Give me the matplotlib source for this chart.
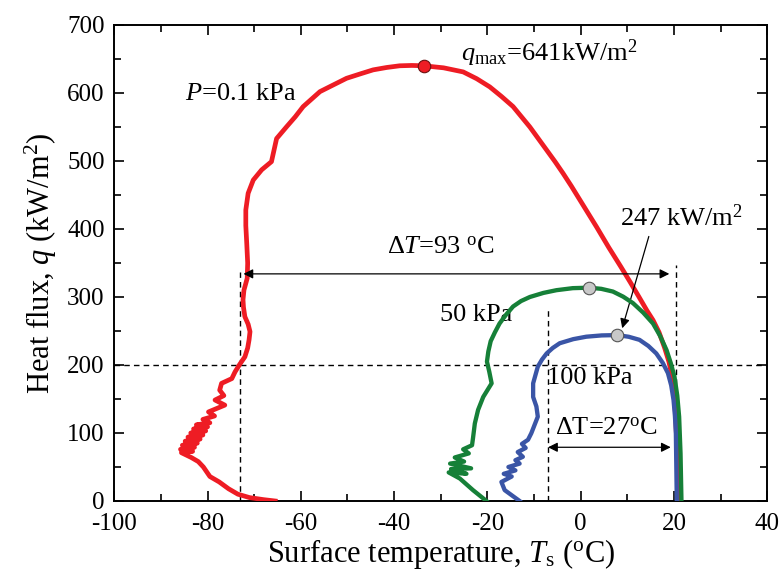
import matplotlib
matplotlib.use("Agg")
import matplotlib.pyplot as plt
from matplotlib.ticker import MultipleLocator

plt.rcParams['font.family'] = ['Liberation Serif', 'DejaVu Serif']
plt.rcParams['mathtext.fontset'] = 'custom'
plt.rcParams['mathtext.rm'] = 'Liberation Serif'
plt.rcParams['mathtext.it'] = 'Liberation Serif:italic'
plt.rcParams['axes.unicode_minus'] = False

# --- data ---
# P = 0.1 kPa
red_T = [-65.5, -68.0, -71.0, -73.5, -75.5, -77.5, -79.5, -80.9, -82.0, -83.5,
         -85.6, -83.2, -85.8, -82.8, -85.4, -82.2, -84.8, -81.6, -84.2, -81.0,
         -83.6, -80.4, -83.0, -80.0, -82.4, -79.5, -81.0, -78.5, -79.8, -76.3,
         -78.4, -76.5, -77.4, -77.0, -74.8, -74.1, -73.1, -72.5, -72.0, -71.4,
         -71.1, -70.9, -71.3, -72.0, -72.3, -72.4, -72.2, -71.5, -71.4, -71.6,
         -71.8, -71.8, -71.3, -70.2, -68.4, -66.3, -65.2, -63.1, -61.2, -59.5,
         -57.7, -55.9, -53.0, -50.2, -47.3, -44.5, -41.6, -38.8, -36.2, -33.6,
         -29.4, -25.2, -22.3, -19.5, -17.0, -14.5, -12.7, -10.9, -9.1, -7.3,
         -5.5, -3.8, -2.0, -0.2, 1.6, 3.4, 6.0, 8.6, 10.6, 12.5,
         14.2, 15.5, 16.8, 18.0, 18.9, 19.6, 20.0, 20.3, 20.5, 20.7,
         20.9, 21.1]
red_q = [0, 2, 5, 10, 18, 28, 36, 50, 58, 64,
         71, 73, 76, 79, 82, 85, 88, 91, 94, 97,
         100, 103, 106, 109, 112, 115, 120, 125, 131, 141,
         148.5, 155, 163, 173, 180, 190, 201, 207, 212, 225,
         237, 249, 260, 271, 285, 296, 310, 327.5, 350, 379,
         405, 428, 452.5, 472, 487, 499, 533, 550, 565, 580,
         591, 602, 612, 621.6, 628, 634, 637.5, 640, 640.5, 640,
         637, 631, 621, 609, 595, 580, 565, 550, 533, 516,
         499, 482, 463, 443, 423, 403, 373, 344.5, 322, 300,
         280, 266, 248, 225, 205, 183, 160, 130, 100, 60,
         30, 0]

# P = 50 kPa
green_T = [-20.2, -23.1, -25.9, -28.3, -24.5, -27.8, -23.5, -28.0, -25.0, -27.0,
           -24.0, -25.2, -23.3, -23.1, -22.7, -22.0, -20.9, -19.1, -19.6, -20.1,
           -19.8, -19.3, -18.4, -17.4, -16.0, -14.5, -12.8, -10.9, -8.0, -5.2,
           -1.7, 1.8, 4.4, 6.9, 9.1, 11.2, 13.4, 15.5, 17.0, 18.4,
           19.3, 20.1, 20.7, 21.1, 21.4, 21.6]
green_q = [0, 16, 33, 42, 40, 47, 48, 55, 58, 64,
           70, 76, 82, 92, 114, 134, 153, 173, 190, 205,
           220, 235, 248, 261, 274, 286, 294, 300, 306, 310,
           313, 313.7, 312, 308, 300.5, 291, 277, 261, 243, 222,
           203, 183, 155, 124, 70, 0]

# P = 100 kPa
blue_T = [-13.1, -16.3, -17.0, -14.8, -16.5, -14.0, -15.5, -13.1, -14.0, -12.4,
          -13.5, -11.8, -12.6, -11.3, -10.6, -9.2, -9.5, -10.2, -10.2, -9.2,
          -8.3, -7.3, -6.0, -4.5, -1.6, 1.2, 4.5, 7.8, 10.3, 12.6,
          14.5, 16.2, 17.6, 18.7, 19.4, 19.9, 20.2, 20.4, 20.5, 20.6]
blue_q = [0, 16, 28, 36, 40, 45, 50, 55, 60, 65,
          72, 78, 84, 90, 99.5, 124, 139, 153, 173, 197.5,
          208, 217, 225, 232, 238, 241.6, 243.5, 244, 241.5, 237,
          228, 217, 203, 188, 170, 148.5, 125, 99.5, 50, 0]

# peak points
peak_red = (-33.6, 640)
peak_green = (1.8, 313.7)
peak_blue = (7.8, 244)

fig = plt.figure(figsize=(7.8, 5.81), dpi=100)
ax = fig.add_axes([0.1465, 0.1377, 0.8372, 0.8193])

ax.plot(red_T, red_q, color='#ee1c24', lw=3.4, solid_joinstyle='round', zorder=3)
ax.plot(green_T, green_q, color='#168038', lw=3.1, solid_joinstyle='round', zorder=4)
ax.plot(blue_T, blue_q, color='#3a55a6', lw=3.1, solid_joinstyle='round', zorder=5)

ax.plot(*peak_red, 'o', ms=9, mfc='#ee1c24', mec='#6a1010', mew=0.8, zorder=6)
ax.plot(*peak_green, 'o', ms=9, mfc='#c8c8c8', mec='#555555', mew=0.8, zorder=6)
ax.plot(*peak_blue, 'o', ms=9, mfc='#c8c8c8', mec='#555555', mew=0.8, zorder=6)

# dashed guide lines
dash = dict(color='black', lw=1.0, ls=(0, (4, 3)), zorder=2)
ax.axhline(200, **dash)
ax.plot([-73.0, -73.0], [0, 337], **dash)
ax.plot([20.5, 20.5], [0, 347], **dash)
ax.plot([-7.0, -7.0], [0, 281], **dash)

# delta T arrows
arr = dict(arrowstyle='<|-|>', color='black', lw=0.9, mutation_scale=14,
           shrinkA=0, shrinkB=0)
ax.annotate('', xy=(19.0, 334), xytext=(-72.3, 334), arrowprops=arr)
ax.annotate('', xy=(19.3, 79), xytext=(-7.0, 79), arrowprops=arr)
ax.annotate('', xy=(8.9, 254), xytext=(14.6, 389),
            arrowprops=dict(arrowstyle='-|>', color='black', lw=0.9,
                            mutation_scale=14, shrinkA=0, shrinkB=0))

fs = 19
ax.text(-84.8, 598, '$P$=0.1 kPa', fontsize=fs, va='center')
ax.text(-25.6, 658, r'$q_{\mathrm{max}}$=641kW/m$^{2}$', fontsize=fs, va='center')
ax.text(8.4, 416, '247 kW/m$^{2}$', fontsize=fs, va='center')
ax.text(-41.6, 372, r'Δ$T$=93 $^{\mathrm{o}}$C', fontsize=fs, va='center')
ax.text(-30.2, 273.5, '50 kPa', fontsize=fs, va='center')
ax.text(-7.3, 181, '100 kPa', fontsize=fs, va='center')
ax.text(-5.6, 106, r'ΔT=27$^{\mathrm{o}}$C', fontsize=fs, va='center')

ax.set_xlim(-100, 40)
ax.set_ylim(0, 700)
ax.xaxis.set_major_locator(MultipleLocator(20))
ax.xaxis.set_minor_locator(MultipleLocator(10))
ax.yaxis.set_major_locator(MultipleLocator(100))
ax.yaxis.set_minor_locator(MultipleLocator(50))
ax.tick_params(which='both', direction='in', top=True, right=True, width=1.2)
ax.tick_params(which='major', length=7, labelsize=18)
ax.tick_params(which='minor', length=5)
ax.tick_params(axis='x', which='major', pad=9)
ax.tick_params(axis='y', which='major', pad=7)
for s in ax.spines.values():
    s.set_linewidth(1.4)

ax.set_xlabel(r'Surface temperature, $T_{\mathrm{s}}$ ($^{\mathrm{o}}$C)', fontsize=22, labelpad=1)
ax.set_ylabel(r'Heat flux, $q$ (kW/m$^{2}$)', fontsize=22, labelpad=6)

fig.savefig('out.png', dpi=100)
